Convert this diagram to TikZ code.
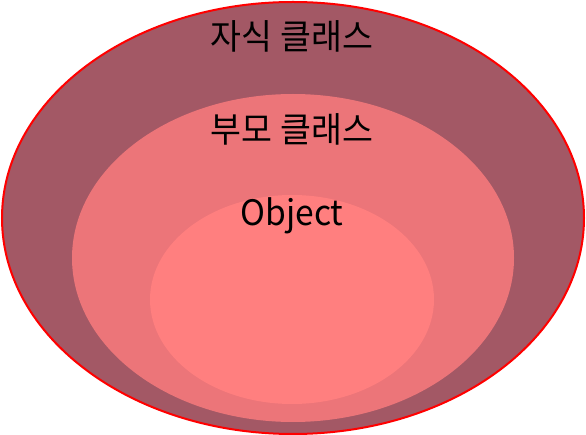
\documentclass[tikz,border=0pt]{standalone}
\usepackage{fontspec}
\setmainfont{Noto Sans CJK KR}
\definecolor{childfill}{HTML}{A35865}
\definecolor{parentfill}{HTML}{EC7579}
\definecolor{objfill}{HTML}{FF7F7F}
\tikzset{
  label/.style={font=\fontsize{35}{38}\selectfont, xscale=0.96, text=black},
}
\begin{document}
\begin{tikzpicture}[x=1pt, y=-1pt]
    \useasboundingbox (0, 0) rectangle (586, 435);

    \fill [childfill] (293, 218) ellipse [x radius=291, y radius=216];
    \draw [red, line width=2pt] (293, 218) ellipse [x radius=291, y radius=216];
    \fill [parentfill] (293, 258) ellipse [x radius=221, y radius=164];
    \fill [objfill] (292, 299.5) ellipse [x radius=142, y radius=104.5];

    \node [label] (child) at (292, 36) {자식 클래스};
    \node [label] (parent) at (292, 129) {부모 클래스};
    \node [label] (object) at (292, 216) {Object};
  \end{tikzpicture}
\end{document}
